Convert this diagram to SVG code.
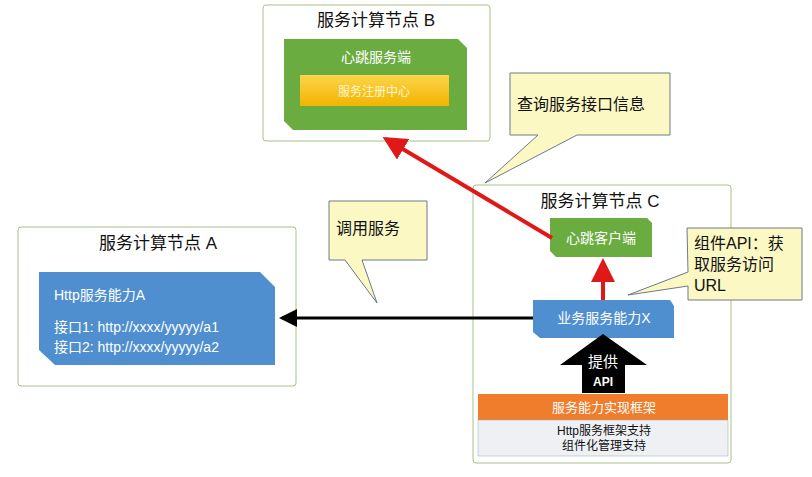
<svg xmlns="http://www.w3.org/2000/svg" width="812" height="477" viewBox="0 0 812 477">
<defs>
<style>
text{font-family:"Liberation Sans","Noto Sans CJK SC",sans-serif}
.node{fill:#fff;stroke:#a9c08a;stroke-width:1}
.title{font-size:17px;fill:#111;text-anchor:middle}
.wt{fill:#fff;font-size:14px}
.call{fill:#fcf8c4;stroke:#6b7a8a;stroke-width:1}
.ct{font-size:16px;fill:#111}
</style>
<linearGradient id="yg" x1="0" y1="0" x2="0" y2="1"><stop offset="0" stop-color="#fcd44a"/><stop offset="1" stop-color="#f2b400"/></linearGradient>
<marker id="rh" markerWidth="6" markerHeight="6" refX="5" refY="3" orient="auto" markerUnits="strokeWidth"><path d="M0,0L6,3L0,6z" fill="#e01818"/></marker>
<marker id="bh" markerWidth="6" markerHeight="6" refX="5" refY="3" orient="auto" markerUnits="strokeWidth"><path d="M0,0L6,3L0,6z" fill="#000"/></marker>
</defs>
<rect width="812" height="477" fill="#fff"/>
<g id="nodeB">
<rect class="node" x="263" y="5" width="227" height="136" rx="3"/>
<text class="title" x="376" y="26">服务计算节点 B</text>
<path d="M284,39H458L467,48V130H293L284,121Z" fill="#6aac40"/>
<text class="wt" x="376" y="62" text-anchor="middle">心跳服务端</text>
<rect x="300" y="75" width="149" height="31" fill="url(#yg)"/>
<text x="374" y="96" fill="#fff7d0" font-size="12" text-anchor="middle">服务注册中心</text>
</g>
<g id="nodeA">
<rect class="node" x="18" y="227" width="278" height="159" rx="3"/>
<text class="title" x="158" y="249">服务计算节点 A</text>
<path d="M39,272H260L275,287V365H55L39,350Z" fill="#4f8fd0"/>
<text class="wt" x="54" y="300">Http服务能力A</text>
<text class="wt" x="54" y="332">接口1:  http://xxxx/yyyyy/a1</text>
<text class="wt" x="54" y="352">接口2:  http://xxxx/yyyyy/a2</text>
</g>
<g id="nodeC">
<rect class="node" x="473" y="185" width="258" height="278" rx="3"/>
<text class="title" x="600" y="207">服务计算节点 C</text>
<g id="heartbeatClient">
<path d="M550,218H647L652,223V257H556L550,251Z" fill="#6aac40"/>
<text class="wt" x="601" y="243" text-anchor="middle">心跳客户端</text>
</g>
<g id="serviceX">
<path d="M533,300H670L674,306V338H540L533,332Z" fill="#4f8fd0"/>
<text class="wt" x="604" y="323" text-anchor="middle">业务服务能力X</text>
</g>
<g id="apiArrow">
<path d="M560,365L603,334L647,365H625V393H582V365Z" fill="#000"/>
<text x="603" y="367" fill="#fff" font-size="15" text-anchor="middle">提供</text>
<text x="603" y="386" fill="#fff" font-size="12" font-weight="bold" text-anchor="middle">API</text>
</g>
<g id="framework">
<rect x="478" y="394" width="250" height="26" fill="#ef7d2c"/>
<text x="604" y="412" fill="#fff" font-size="13" text-anchor="middle">服务能力实现框架</text>
<rect x="478" y="420" width="250" height="36" fill="#eef0f4" stroke="#9aa" stroke-width="0.5"/>
<text x="604" y="435" fill="#111" font-size="12" text-anchor="middle">Http服务框架支持</text>
<text x="604" y="450" fill="#111" font-size="12" text-anchor="middle">组件化管理支持</text>
</g>
</g>
<g id="callouts">
<path class="call" d="M510,73H670V135H577L485,183L538,135H510Z"/>
<text class="ct" x="517" y="110">查询服务接口信息</text>
<path class="call" d="M329,201H427V260H362L377,303L345,260H329Z"/>
<text class="ct" x="336" y="234">调用服务</text>
<path class="call" d="M687,228H802V300H688V286L628,295L688,272Z"/>
<text class="ct" x="694" y="249">组件API：获</text>
<text class="ct" x="694" y="270">取服务访问</text>
<text class="ct" x="694" y="291">URL</text>
</g>
<g id="connectors">
<line x1="552" y1="238" x2="386" y2="139" stroke="#e01818" stroke-width="4" marker-end="url(#rh)"/>
<line x1="603" y1="300" x2="603" y2="262" stroke="#e01818" stroke-width="4" marker-end="url(#rh)"/>
<line x1="533" y1="318" x2="282" y2="318" stroke="#000" stroke-width="3" marker-end="url(#bh)"/>
</g>
</svg>
